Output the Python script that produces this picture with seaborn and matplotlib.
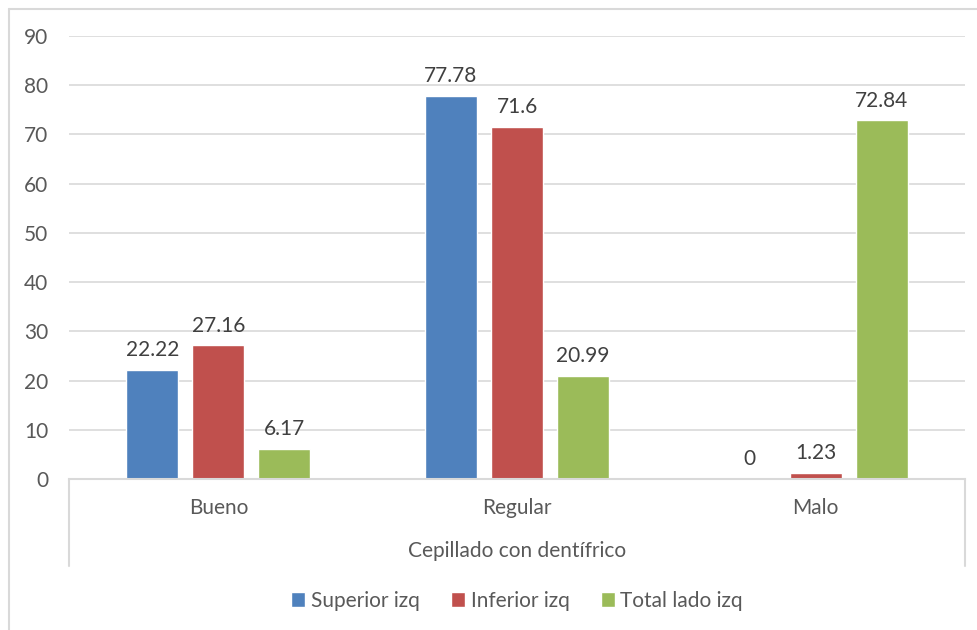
import pandas as pd
import matplotlib.pyplot as plt
import seaborn as sns
from matplotlib.lines import Line2D
from matplotlib.patches import Patch

# data
categorias = ["Bueno", "Regular", "Malo"]
series = ["Superior izq", "Inferior izq", "Total lado izq"]
superior = [22.22, 77.78, 0]
inferior = [27.16, 71.6, 1.23]
total = [6.17, 20.99, 72.84]
colores = ["#4F81BD", "#C0504D", "#9BBB59"]
y_ticks = [0, 10, 20, 30, 40, 50, 60, 70, 80, 90]
grupo = "Cepillado con dentífrico"

df = pd.DataFrame({
    "categoria": categorias * 3,
    "serie": [series[0]] * 3 + [series[1]] * 3 + [series[2]] * 3,
    "valor": superior + inferior + total,
})

sns.set_style("white")
plt.rcParams["font.family"] = ["Lato", "DejaVu Sans"]
txt = "#595959"
grid = "#D9D9D9"
fs = 15

W, H = 977, 630
fig = plt.figure(figsize=(W / 100, H / 100), dpi=100)
ax = fig.add_axes([69 / W, 1 - 479 / H, (965 - 69) / W, (479 - 36) / H])

sns.barplot(data=df, x="categoria", y="valor", hue="serie", order=categorias,
            hue_order=series, palette=colores, width=0.663, gap=0.21,
            saturation=1, ax=ax, legend=False)

for cont in ax.containers:
    vals = [r.get_height() for r in cont]
    ax.bar_label(cont, labels=["{:g}".format(v) for v in vals], padding=7,
                 fontsize=fs, color="#404040")

ax.set_ylim(0, 90)
ax.set_yticks(y_ticks)
ax.set_xlim(-0.5, 2.5)
ax.yaxis.grid(True, color=grid, linewidth=1.2)
ax.set_axisbelow(True)
for s in ["top", "right", "left"]:
    ax.spines[s].set_visible(False)
ax.spines["bottom"].set_color(grid)
ax.spines["bottom"].set_linewidth(1.5)
ax.tick_params(axis="y", length=0, pad=15, labelsize=fs, labelcolor=txt)
ax.tick_params(axis="x", length=0, pad=14, labelsize=fs, labelcolor=txt)
ax.set_xlabel("")
ax.set_ylabel("")

# multi-level axis box
h = (479 - 36)
low = -(566 - 479) / h
for xx in (0, 1):
    ax.add_line(Line2D([xx, xx], [0, low], transform=ax.transAxes,
                       color=grid, linewidth=1.5, clip_on=False))
ax.text(0.5, -(551 - 479) / h, grupo, transform=ax.transAxes, ha="center",
        va="center", fontsize=fs, color=txt)

# chart area border (left + top)
fig.add_artist(Line2D([9 / W, 9 / W], [0, 1 - 9 / H], color=grid, linewidth=1.5))
fig.add_artist(Line2D([9 / W, 1], [1 - 9 / H, 1 - 9 / H], color=grid, linewidth=1.5))

handles = [Patch(facecolor=c, label=s) for c, s in zip(colores, series)]
fig.legend(handles=handles, loc="center", bbox_to_anchor=(517 / W, 1 - 601 / H),
           ncol=3, frameon=False, fontsize=fs, labelcolor=txt,
           handlelength=0.7, handleheight=0.7, handletextpad=0.25,
           columnspacing=1.5)

fig.savefig("out.png", dpi=100)
